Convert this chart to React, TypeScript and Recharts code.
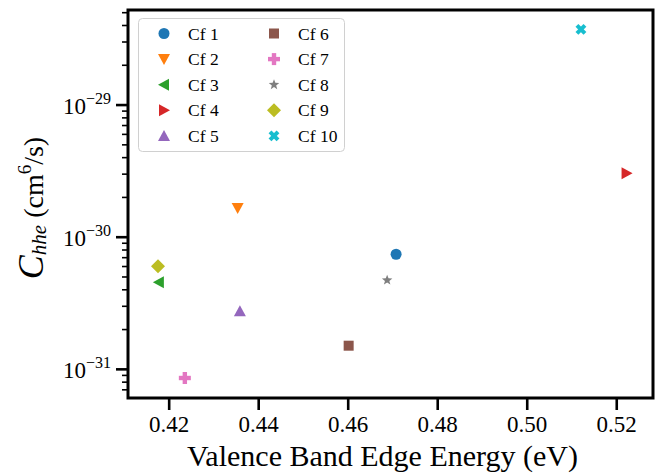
import {
  ScatterChart,
  Scatter,
  XAxis,
  YAxis,
  ReferenceArea,
} from 'recharts';

const labels = ['Cf 1', 'Cf 2', 'Cf 3', 'Cf 4', 'Cf 5', 'Cf 6', 'Cf 7', 'Cf 8', 'Cf 9', 'Cf 10'];
const energy = [0.4707, 0.4353, 0.4177, 0.5222, 0.4358, 0.4601, 0.4235, 0.4687, 0.4175, 0.512];
const chhe = [7.43e-31, 1.66e-30, 4.57e-31, 3.05e-30, 2.75e-31, 1.51e-31, 8.6e-32, 4.73e-31, 6.04e-31, 3.74e-29];
const colors = ['#1f77b4', '#ff7f0e', '#2ca02c', '#d62728', '#9467bd', '#8c564b', '#e377c2', '#7f7f7f', '#bcbd22', '#17becf'];
const markers = ['circle', 'down', 'left', 'right', 'up', 'square', 'plus', 'star', 'diamond', 'cross'];

const xTicks = [0.42, 0.44, 0.46, 0.48, 0.5, 0.52];
const yMajor = [1e-31, 1e-30, 1e-29];
const yMinor = [
  7e-32, 8e-32, 9e-32,
  2e-31, 3e-31, 4e-31, 5e-31, 6e-31, 7e-31, 8e-31, 9e-31,
  2e-30, 3e-30, 4e-30, 5e-30, 6e-30, 7e-30, 8e-30, 9e-30,
  2e-29, 3e-29, 4e-29, 5e-29,
];
const xDomain = [0.4108, 0.5281];
const yDomain = [6.07e-32, 5.24e-29];

const FONT = 'Liberation Serif';

function Marker({ kind, cx, cy, color }: { kind: string; cx: number; cy: number; color: string }) {
  const r = 5.5;
  switch (kind) {
    case 'circle':
      return <circle cx={cx} cy={cy} r={r} fill={color} />;
    case 'square':
      return <rect x={cx - 5} y={cy - 5} width={10} height={10} fill={color} />;
    case 'down':
      return <polygon points={`${cx - 6},${cy - 5} ${cx + 6},${cy - 5} ${cx},${cy + 6}`} fill={color} />;
    case 'up':
      return <polygon points={`${cx - 6},${cy + 5} ${cx + 6},${cy + 5} ${cx},${cy - 6}`} fill={color} />;
    case 'left':
      return <polygon points={`${cx + 5},${cy - 6} ${cx + 5},${cy + 6} ${cx - 6},${cy}`} fill={color} />;
    case 'right':
      return <polygon points={`${cx - 5},${cy - 6} ${cx - 5},${cy + 6} ${cx + 6},${cy}`} fill={color} />;
    case 'diamond':
      return <polygon points={`${cx},${cy - 7} ${cx + 7},${cy} ${cx},${cy + 7} ${cx - 7},${cy}`} fill={color} />;
    case 'plus':
      return (
        <g fill={color}>
          <rect x={cx - 6} y={cy - 2.2} width={12} height={4.4} />
          <rect x={cx - 2.2} y={cy - 6} width={4.4} height={12} />
        </g>
      );
    case 'cross':
      return (
        <g stroke={color} strokeWidth={4}>
          <line x1={cx - 4} y1={cy - 4} x2={cx + 4} y2={cy + 4} />
          <line x1={cx - 4} y1={cy + 4} x2={cx + 4} y2={cy - 4} />
        </g>
      );
    case 'star': {
      const pts: string[] = [];
      for (let i = 0; i < 10; i++) {
        const a = -Math.PI / 2 + (i * Math.PI) / 5;
        const rr = i % 2 === 0 ? 5.5 : 2.3;
        pts.push(`${cx + rr * Math.cos(a)},${cy + rr * Math.sin(a)}`);
      }
      return <polygon points={pts.join(' ')} fill={color} />;
    }
    default:
      return null;
  }
}

function YTick(props: any) {
  const { x, y, payload } = props;
  const v = payload.value as number;
  const exp = Math.round(Math.log10(v));
  const major = Math.abs(Math.log10(v) - exp) < 1e-6;
  if (!major) {
    return <line x1={x} x2={x - 6} y1={y} y2={y} stroke="#000" strokeWidth={1.6} />;
  }
  return (
    <g>
      <line x1={x} x2={x - 12} y1={y} y2={y} stroke="#000" strokeWidth={2.6} />
      <text x={x - 17} y={y + 9} textAnchor="end" fontFamily={FONT} fontSize={23} fill="#000">
        10
        <tspan dy={-10} fontSize={16}>{`\u2212${Math.abs(exp)}`}</tspan>
      </text>
    </g>
  );
}

function XTick(props: any) {
  const { x, y, payload } = props;
  return (
    <g>
      <line x1={x} x2={x} y1={y} y2={y + 12} stroke="#000" strokeWidth={2.6} />
      <text x={x} y={y + 34} textAnchor="middle" fontFamily={FONT} fontSize={23} fill="#000">
        {(payload.value as number).toFixed(2)}
      </text>
    </g>
  );
}

function XLabel(props: any) {
  const vb = props.viewBox || { x: 128, width: 525 };
  return (
    <text x={vb.x + vb.width / 2 - 8} y={466} textAnchor="middle" fontFamily={FONT} fontSize={30} fill="#000">
      Valence Band Edge Energy (eV)
    </text>
  );
}

function YLabel() {
  const cy = 208;
  return (
    <text
      x={43}
      y={cy}
      transform={`rotate(-90 43 ${cy})`}
      textAnchor="middle"
      fontFamily={FONT}
      fontSize={28}
      fill="#000"
    >
      <tspan fontStyle="italic" fontSize={36}>C</tspan>
      <tspan fontStyle="italic" fontSize={21} dy={3}>hhe</tspan>
      <tspan dy={-3}> (cm</tspan>
      <tspan fontSize={19} dy={-12}>6</tspan>
      <tspan dy={12}>/s)</tspan>
    </text>
  );
}

function LegendBox() {
  return (
    <svg width={208} height={135} style={{ display: 'block' }}>
      <rect x={0.5} y={0.5} width={206} height={133} rx={4} fill="#fff" fillOpacity={0.8} stroke="#d0d0d0" />
      {labels.map((lab, i) => {
        const col = Math.floor(i / 5);
        const row = i % 5;
        const mx = 26 + col * 110;
        const my = 15.5 + row * 25.6;
        return (
          <g key={lab}>
            <Marker kind={markers[i]} cx={mx} cy={my} color={colors[i]} />
            <text x={mx + 24} y={my + 6} fontFamily={FONT} fontSize={17.5} fill="#000">
              {lab}
            </text>
          </g>
        );
      })}
    </svg>
  );
}

export default function App() {
  return (
    <div style={{ position: 'absolute', left: 0, top: 0, width: 672, height: 474, background: '#fff' }}>
      <ScatterChart width={672} height={474} margin={{ top: 10, right: 19, bottom: 0, left: 0 }}>
        <XAxis
          type="number"
          dataKey="x"
          domain={xDomain}
          ticks={xTicks}
          interval={0}
          allowDataOverflow
          axisLine={false}
          tickLine={false}
          tickSize={0}
          tickMargin={0}
          tick={<XTick />}
          height={76}
          label={<XLabel />}
        />
        <YAxis
          type="number"
          dataKey="y"
          scale="log"
          domain={yDomain}
          ticks={[...yMajor, ...yMinor]}
          interval={0}
          allowDataOverflow
          axisLine={false}
          tickLine={false}
          tickSize={0}
          tickMargin={0}
          tick={<YTick />}
          width={128}
          label={<YLabel />}
        />
        <ReferenceArea
          x1={xDomain[0]}
          x2={xDomain[1]}
          y1={yDomain[0]}
          y2={yDomain[1]}
          fill="none"
          stroke="#000"
          strokeWidth={3}
          ifOverflow="visible"
        />
        {labels.map((lab, i) => (
          <Scatter
            key={lab}
            name={lab}
            data={[{ x: energy[i], y: chhe[i] }]}
            fill={colors[i]}
            isAnimationActive={false}
            shape={(p: any) => <Marker kind={markers[i]} cx={p.cx} cy={p.cy} color={colors[i]} />}
          />
        ))}
      </ScatterChart>
      <div style={{ position: 'absolute', left: 138, top: 18 }}>
        <LegendBox />
      </div>
    </div>
  );
}
